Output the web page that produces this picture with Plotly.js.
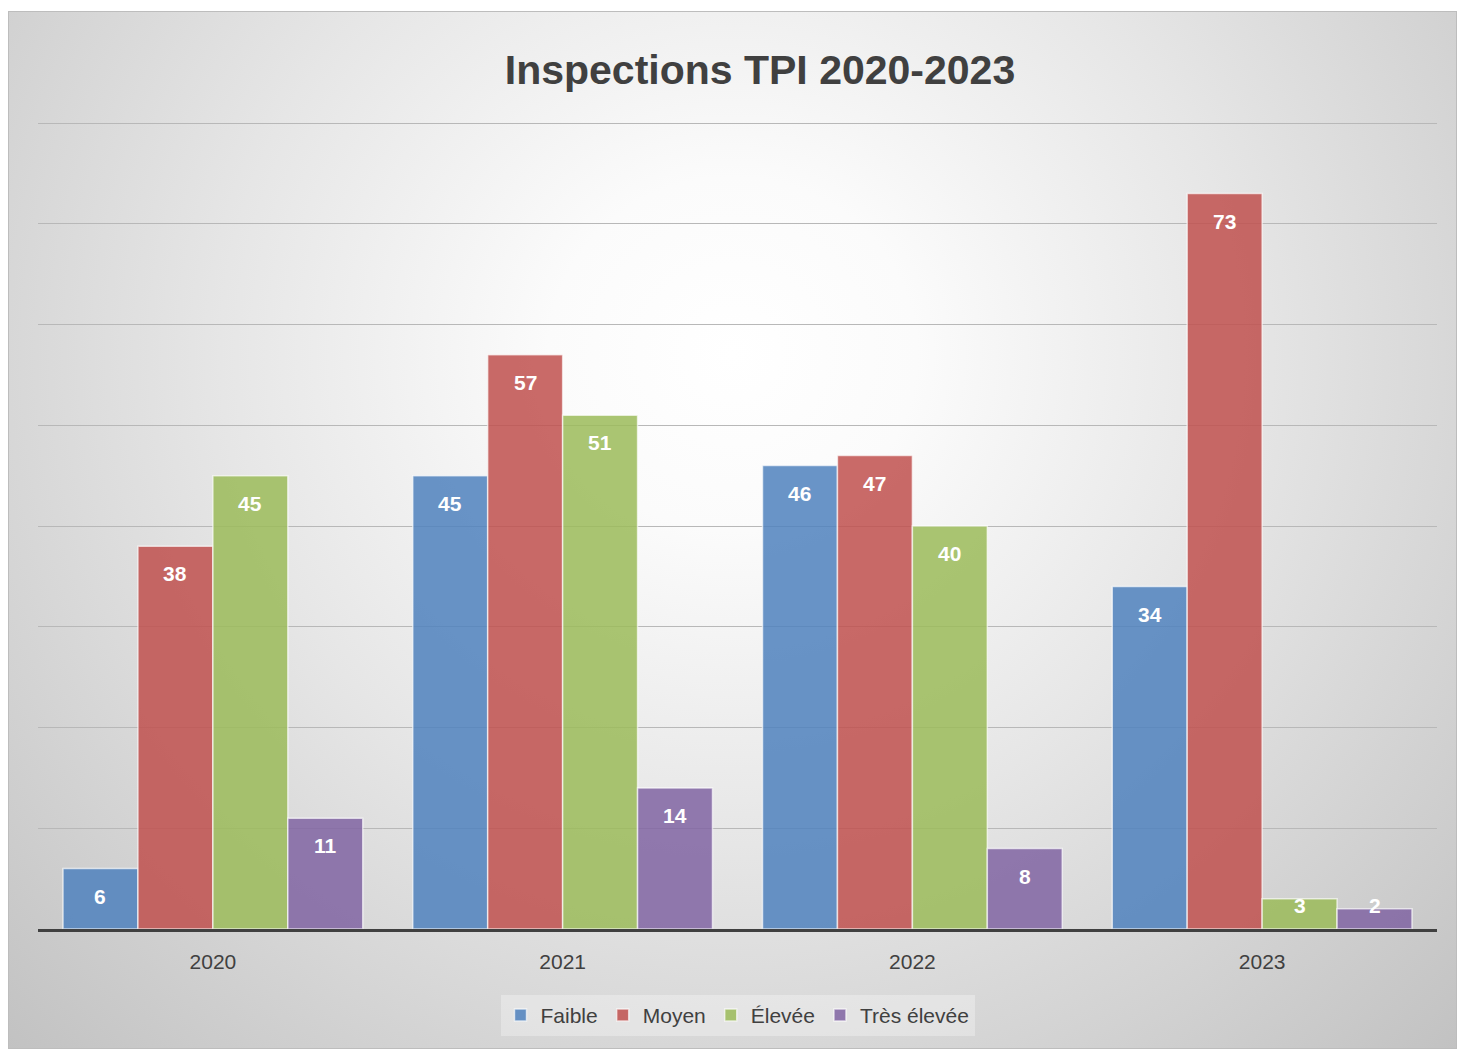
<!DOCTYPE html>
<html>
<head>
<meta charset="utf-8">
<script src="https://cdn.plot.ly/plotly-3.0.1.min.js"></script>
<style>
  html, body { margin: 0; padding: 0; background: #ffffff; }
  #frame {
    position: absolute; left: 8px; top: 11px; width: 1447px; height: 1036px;
    border: 1px solid #bdbdbd;
    background: radial-gradient(ellipse farthest-corner at 50% 33%, #ffffff 0%, #fbfbfb 18%, #e6e6e6 50%, #c2c2c2 100%);
  }
  #chart { position: absolute; left: 0; top: 0; width: 1457px; height: 1049px; }
</style>
</head>
<body>
<div id="frame"></div>
<div id="chart"></div>
<script>
const categories = ['2020', '2021', '2022', '2023'];
const seriesNames = ['Faible', 'Moyen', 'Élevée', 'Très élevée'];
const faible = [6, 45, 46, 34];
const moyen = [38, 57, 47, 73];
const elevee = [45, 51, 40, 3];
const tresElevee = [11, 14, 8, 2];
const seriesValues = [faible, moyen, elevee, tresElevee];
const colors = ['rgba(79,129,189,0.85)', 'rgba(192,80,77,0.85)', 'rgba(155,187,89,0.85)', 'rgba(128,100,162,0.85)'];

const FONT = 'Liberation Sans, Arial, sans-serif';
const BARGAP = 0.143;

const traces = seriesNames.map((name, i) => ({
  type: 'bar',
  name: name,
  x: categories,
  y: seriesValues[i],
  marker: { color: colors[i], line: { color: 'rgba(255,255,255,0.65)', width: 1.5 } },
  hoverinfo: 'x+y+name'
}));

const annotations = [];
const n = seriesValues.length;
const barW = (1 - BARGAP) / n;
seriesValues.forEach((vals, i) => {
  vals.forEach((v, j) => {
    annotations.push({
      x: j + (i - (n - 1) / 2) * barW,
      y: Math.max(v - 2.75, 2.35),
      xref: 'x', yref: 'y',
      text: String(v),
      showarrow: false,
      xanchor: 'center', yanchor: 'middle',
      font: { family: FONT, size: 21, color: '#ffffff', weight: 'bold' }
    });
  });
});

const layout = {
  width: 1457, height: 1049,
  paper_bgcolor: 'rgba(0,0,0,0)',
  plot_bgcolor: 'rgba(0,0,0,0)',
  margin: { l: 38, r: 20, t: 121, b: 120, pad: 0 },
  barmode: 'group',
  bargap: BARGAP,
  bargroupgap: 0,
  title: {
    text: '<b>Inspections TPI 2020-2023</b>',
    font: { family: FONT, size: 41, color: '#404040' },
    xref: 'container', yref: 'container',
    x: 760 / 1457, xanchor: 'center',
    y: 1 - 70 / 1049, yanchor: 'middle'
  },
  xaxis: {
    type: 'category',
    showline: true, linecolor: '#404040', linewidth: 3,
    ticks: '', showgrid: false,
    tickfont: { family: FONT, size: 21, color: '#404040' },
    ticklabelstandoff: 12
  },
  yaxis: {
    range: [0, 80.2], dtick: 10, tick0: 0,
    showticklabels: false, ticks: '',
    showgrid: true, gridcolor: '#b8b8b8', gridwidth: 1,
    zeroline: false, showline: false
  },
  legend: {
    orientation: 'h',
    x: 0.5, xanchor: 'center',
    y: -0.107, yanchor: 'middle',
    bgcolor: 'rgba(255,255,255,0.3)',
    font: { family: FONT, size: 21, color: '#404040' },
    itemwidth: 30,
    traceorder: 'normal'
  },
  annotations: annotations,
  showlegend: true
};

Plotly.newPlot('chart', traces, layout, { displayModeBar: false, staticPlot: true });
</script>
</body>
</html>
